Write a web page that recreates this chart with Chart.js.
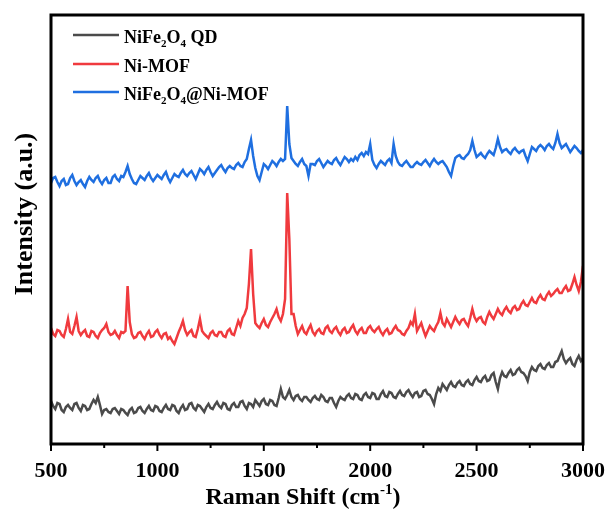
<!DOCTYPE html>
<html>
<head>
<meta charset="utf-8">
<script src="https://cdn.jsdelivr.net/npm/chart.js@4.4.1/dist/chart.umd.min.js"></script>
<style>
  body { margin: 0; background: #fff; }
  canvas { display: block; }
</style>
</head>
<body>
<canvas id="raman" width="611" height="520"></canvas>
<script>
// Raman shift (cm-1), one row per 100 cm-1, sampled every 10 cm-1
const ramanShift = [
  500, 510, 520, 530, 540, 550, 560, 570, 580, 590,
  600, 610, 620, 630, 640, 650, 660, 670, 680, 690,
  700, 710, 720, 730, 740, 750, 760, 770, 780, 790,
  800, 810, 820, 830, 840, 850, 860, 870, 880, 890,
  900, 910, 920, 930, 940, 950, 960, 970, 980, 990,
  1000, 1010, 1020, 1030, 1040, 1050, 1060, 1070, 1080, 1090,
  1100, 1110, 1120, 1130, 1140, 1150, 1160, 1170, 1180, 1190,
  1200, 1210, 1220, 1230, 1240, 1250, 1260, 1270, 1280, 1290,
  1300, 1310, 1320, 1330, 1340, 1350, 1360, 1370, 1380, 1390,
  1400, 1410, 1420, 1430, 1440, 1450, 1460, 1470, 1480, 1490,
  1500, 1510, 1520, 1530, 1540, 1550, 1560, 1570, 1580, 1590,
  1600, 1610, 1620, 1630, 1640, 1650, 1660, 1670, 1680, 1690,
  1700, 1710, 1720, 1730, 1740, 1750, 1760, 1770, 1780, 1790,
  1800, 1810, 1820, 1830, 1840, 1850, 1860, 1870, 1880, 1890,
  1900, 1910, 1920, 1930, 1940, 1950, 1960, 1970, 1980, 1990,
  2000, 2010, 2020, 2030, 2040, 2050, 2060, 2070, 2080, 2090,
  2100, 2110, 2120, 2130, 2140, 2150, 2160, 2170, 2180, 2190,
  2200, 2210, 2220, 2230, 2240, 2250, 2260, 2270, 2280, 2290,
  2300, 2310, 2320, 2330, 2340, 2350, 2360, 2370, 2380, 2390,
  2400, 2410, 2420, 2430, 2440, 2450, 2460, 2470, 2480, 2490,
  2500, 2510, 2520, 2530, 2540, 2550, 2560, 2570, 2580, 2590,
  2600, 2610, 2620, 2630, 2640, 2650, 2660, 2670, 2680, 2690,
  2700, 2710, 2720, 2730, 2740, 2750, 2760, 2770, 2780, 2790,
  2800, 2810, 2820, 2830, 2840, 2850, 2860, 2870, 2880, 2890,
  2900, 2910, 2920, 2930, 2940, 2950, 2960, 2970, 2980, 2990,
  3000
];

// intensities (a.u., stacked with offsets as in the figure)
const nife2o4QD = [
  43, 38, 35, 41, 40, 34, 32, 37, 39, 36,
  34, 40, 41, 36, 33, 39, 38, 34, 35, 40,
  44, 41, 47, 39, 30, 34, 35, 32, 31, 35,
  36, 33, 30, 35, 34, 31, 29, 34, 36, 31,
  32, 36, 37, 33, 31, 35, 38, 34, 33, 38,
  37, 33, 32, 36, 39, 35, 34, 39, 38, 33,
  31, 36, 39, 34, 35, 40, 41, 36, 34, 39,
  38, 35, 32, 37, 40, 36, 35, 39, 42, 38,
  36, 41, 40, 35, 34, 39, 41, 37, 37, 42,
  43, 38, 35, 41, 40, 37, 44, 41, 38, 43,
  45, 40, 39, 44, 43, 39, 38, 46, 55, 47,
  45, 49, 54, 47, 44, 48, 49, 45, 43, 47,
  47, 44, 42, 46, 48, 45, 44, 49, 47, 43,
  42, 46, 46, 41, 37, 43, 47, 45, 44, 48,
  50, 46, 45, 50, 49, 45, 44, 49, 51, 47,
  46, 51, 50, 45, 45, 50, 53, 48, 47, 52,
  51, 47, 46, 50, 53, 49, 48, 52, 54, 50,
  47, 51, 52, 47, 48, 53, 54, 50, 49, 45,
  40, 50, 56, 53, 60, 57, 54, 59, 62, 58,
  57, 61, 63, 59, 58, 62, 64, 60, 59, 64,
  67, 63, 62, 66, 68, 63, 64, 69, 71, 62,
  55, 66, 72, 68, 67, 71, 74, 69, 70, 74,
  76, 72, 71, 68, 63, 72, 77, 74, 73, 78,
  80, 76, 75, 79, 81, 77, 77, 82, 83, 88,
  93, 85, 81, 84, 86, 80, 78, 84, 88, 83,
  86
];

const niMOF = [
  116, 110, 108, 114, 113, 109, 107, 115, 125, 112,
  110, 118, 127, 113, 109, 112, 114, 108, 107, 113,
  112, 108, 106, 111, 114, 116, 120, 112, 109, 110,
  113, 109, 106, 112, 111, 113, 158, 122, 110, 106,
  107, 111, 112, 108, 105, 110, 113, 107, 108, 112,
  114, 109, 106, 110, 111, 105, 107, 103, 100, 106,
  112, 117, 123, 114, 109, 112, 114, 108, 107, 115,
  125, 113, 110, 108, 106, 111, 113, 109, 108, 112,
  112, 108, 107, 113, 115, 110, 109, 116, 123, 118,
  126, 130, 136, 160, 195, 150, 121, 118, 116, 121,
  125, 119, 117, 122, 126, 130, 135, 127, 123, 130,
  145, 251, 205, 130, 130, 118, 110, 114, 118, 112,
  110, 115, 119, 112, 109, 113, 115, 111, 110, 116,
  118, 113, 111, 115, 117, 112, 109, 114, 116, 111,
  112, 116, 119, 113, 110, 114, 116, 111, 111, 116,
  118, 114, 112, 115, 117, 112, 109, 113, 115, 110,
  111, 115, 118, 114, 113, 110, 109, 113, 116, 122,
  119, 130, 113, 117, 121, 114, 108, 113, 118, 115,
  113, 118, 122, 131, 121, 118, 125, 121, 117, 122,
  127, 123, 120, 124, 125, 121, 118, 126, 135, 127,
  123, 126, 127, 122, 120, 127, 132, 128, 125, 130,
  135, 131, 129, 134, 137, 133, 131, 136, 138, 134,
  135, 140, 143, 139, 138, 142, 146, 142, 141, 146,
  149, 145, 144, 149, 152, 148, 150, 153, 155, 151,
  151, 155, 158, 153, 154, 160, 167, 159, 153, 162,
  178
];

const nife2o4NiMOF = [
  261, 266, 267, 262, 258, 263, 265, 259, 260, 266,
  269, 263, 259, 262, 264, 260, 257, 263, 267, 264,
  262, 266, 268, 263, 260, 264, 266, 261, 261, 267,
  269, 265, 263, 268, 267, 272, 278, 270, 265, 261,
  260, 264, 268, 266, 264, 268, 271, 266, 263, 266,
  269, 267, 265, 269, 272, 266, 262, 266, 270, 268,
  267, 271, 274, 270, 268, 271, 273, 269, 265, 270,
  275, 273, 270, 274, 277, 272, 268, 271, 274, 277,
  279, 275, 272, 276, 278, 276, 275, 279, 281, 278,
  277, 282, 285, 295, 304, 288, 276, 268, 264, 272,
  280, 278, 275, 279, 283, 281, 278, 282, 285, 283,
  285, 338, 300, 286, 283, 280, 278, 282, 285, 280,
  278, 268, 280, 280, 279, 283, 285, 281, 277, 280,
  283, 281, 280, 284, 286, 282, 279, 283, 287, 285,
  282, 285, 283, 287, 284, 289, 291, 288, 292, 290,
  300, 284, 279, 276, 280, 283, 281, 279, 283, 285,
  281, 300, 288, 282, 279, 278, 281, 283, 280, 277,
  277, 280, 282, 280, 279, 282, 284, 281, 278, 282,
  285, 282, 280, 282, 283, 280, 277, 272, 268, 278,
  286, 288, 289, 286, 285, 288, 290, 294, 303, 294,
  287, 289, 291, 288, 286, 290, 293, 291, 289, 296,
  305, 297, 292, 294, 295, 292, 290, 294, 296, 293,
  291, 293, 294, 288, 283, 290, 297, 295, 293, 297,
  299, 297, 294, 298, 300, 297, 295, 301, 310, 301,
  296, 298, 300, 296, 292, 295, 298, 296, 293, 291,
  294
];

const seriesLabels = ["NiFe2O4 QD", "Ni-MOF", "NiFe2O4@Ni-MOF"];
const seriesColors = ["#4b4b4b", "#f03a3e", "#1f6fe0"];
const xTickValues = [500, 1000, 1500, 2000, 2500, 3000];

const serif = '"Liberation Serif", "Times New Roman", serif';

function toPoints(values) {
  return values.map((v, i) => ({ x: ramanShift[i], y: v }));
}

// draw text with digits after letters as subscripts (chemical formulas)
function drawFormula(ctx, text, x, y, size) {
  const parts = text.match(/\d+|[^\d]+/g);
  let cx = x;
  parts.forEach((p, i) => {
    const isSub = /^\d+$/.test(p) && i > 0 && /[A-Za-z]$/.test(parts[i - 1]);
    if (isSub) {
      ctx.font = "bold " + Math.round(size * 0.62) + "px " + serif;
      ctx.fillText(p, cx, y + size * 0.22);
    } else {
      ctx.font = "bold " + size + "px " + serif;
      ctx.fillText(p, cx, y);
    }
    cx += ctx.measureText(p).width;
  });
}

const decorPlugin = {
  id: "decor",
  afterDraw(chart) {
    const { ctx, chartArea: a, scales } = chart;
    const x = scales.x;
    ctx.save();

    // frame
    ctx.strokeStyle = "#000";
    ctx.lineWidth = 3;
    ctx.strokeRect(a.left, a.top, a.right - a.left, a.bottom - a.top);

    // major and minor ticks, outward
    ctx.lineWidth = 2;
    x.ticks.forEach((t, i) => {
      const px = x.getPixelForValue(t.value);
      ctx.beginPath();
      ctx.moveTo(px, a.bottom);
      ctx.lineTo(px, a.bottom + 7);
      ctx.stroke();
      if (i < x.ticks.length - 1) {
        const mid = x.getPixelForValue((t.value + x.ticks[i + 1].value) / 2);
        ctx.beginPath();
        ctx.moveTo(mid, a.bottom);
        ctx.lineTo(mid, a.bottom + 4);
        ctx.stroke();
      }
    });

    ctx.fillStyle = "#000";
    ctx.textBaseline = "alphabetic";
    ctx.textAlign = "left";

    // x title with superscript
    const big = 24;
    const supSize = Math.round(big * 0.62);
    const head = "Raman Shift (cm";
    const sup = "-1";
    const tail = ")";
    ctx.font = "bold " + big + "px " + serif;
    const wHead = ctx.measureText(head).width;
    const wTail = ctx.measureText(tail).width;
    ctx.font = "bold " + supSize + "px " + serif;
    const wSup = ctx.measureText(sup).width;
    let tx = (a.left + a.right) / 2 - 14 - (wHead + wSup + wTail) / 2;
    const ty = 504;
    ctx.font = "bold " + big + "px " + serif;
    ctx.fillText(head, tx, ty);
    tx += wHead;
    ctx.font = "bold " + supSize + "px " + serif;
    ctx.fillText(sup, tx, ty - big * 0.42);
    tx += wSup;
    ctx.font = "bold " + big + "px " + serif;
    ctx.fillText(tail, tx, ty);

    // y title
    ctx.save();
    ctx.translate(32, 214);
    ctx.rotate(-Math.PI / 2);
    ctx.textAlign = "center";
    ctx.font = "bold 26px " + serif;
    ctx.fillText("Intensity (a.u.)", 0, 0);
    ctx.restore();

    // legend
    const rows = [43, 72, 100];
    chart.data.datasets.forEach((ds, i) => {
      ctx.strokeStyle = ds.borderColor;
      ctx.lineWidth = 2.5;
      ctx.beginPath();
      ctx.moveTo(73, rows[i] - 8);
      ctx.lineTo(119, rows[i] - 8);
      ctx.stroke();
      ctx.fillStyle = "#000";
      drawFormula(ctx, ds.label, 124, rows[i], 18);
    });

    ctx.restore();
  }
};

new Chart(document.getElementById("raman").getContext("2d"), {
  type: "line",
  data: {
    datasets: [nife2o4QD, niMOF, nife2o4NiMOF].map((vals, i) => ({
      label: seriesLabels[i],
      data: toPoints(vals),
      borderColor: seriesColors[i],
      borderWidth: 2.5,
      pointRadius: 0,
      tension: 0,
      fill: false,
    })),
  },
  options: {
    responsive: false,
    animation: false,
    layout: { padding: { left: 0, top: 15, right: 28, bottom: 0 } },
    plugins: {
      legend: { display: false },
      tooltip: { enabled: false },
    },
    scales: {
      x: {
        type: "linear",
        min: 500,
        max: 3000,
        afterFit: (s) => { s.height = 76; s.paddingLeft = 0; s.paddingRight = 0; },
        afterBuildTicks: (s) => { s.ticks = xTickValues.map((v) => ({ value: v })); },
        grid: { display: false, drawTicks: false },
        border: { display: false },
        ticks: {
          padding: 14,
          color: "#000",
          font: { family: serif, size: 22, weight: "bold" },
          callback: (v) => String(v),
        },
      },
      y: {
        min: 0,
        max: 429,
        afterFit: (s) => { s.width = 51; },
        grid: { display: false, drawTicks: false },
        border: { display: false },
        ticks: { display: false },
      },
    },
  },
  plugins: [decorPlugin],
});
</script>
</body>
</html>
